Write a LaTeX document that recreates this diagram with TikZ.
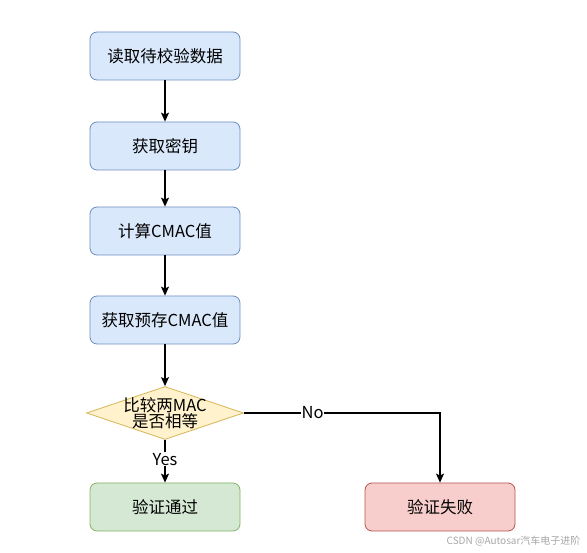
\documentclass[tikz,border=0pt]{standalone}
\usepackage{fontspec}
\setmainfont{Noto Sans CJK SC}
\usetikzlibrary{shapes.geometric,arrows.meta}
\definecolor{bfill}{HTML}{DAE8FC}\definecolor{bdraw}{HTML}{6C8EBF}
\definecolor{yfill}{HTML}{FFF2CC}\definecolor{ydraw}{HTML}{D6B656}
\definecolor{gfill}{HTML}{D5E8D4}\definecolor{gdraw}{HTML}{82B366}
\definecolor{rfill}{HTML}{F8CECC}\definecolor{rdraw}{HTML}{B85450}
\tikzset{
  box/.style={rectangle, rounded corners=7pt, minimum width=150pt, minimum height=48pt, inner sep=0pt, font=\fontsize{16.5}{19}\selectfont, line width=0.8pt},
  bluebox/.style={box, fill=bfill, draw=bdraw},
  greenbox/.style={box, fill=gfill, draw=gdraw},
  redbox/.style={box, fill=rfill, draw=rdraw},
  decision/.style={diamond, fill=yfill, draw=ydraw, line width=0.8pt, inner sep=0pt, minimum width=157pt, minimum height=53pt},
  dtext/.style={inner sep=0pt, font=\fontsize{16.5}{19}\selectfont, align=center},
  conn/.style={-{Stealth[length=9pt,width=8pt,inset=2pt]}, line width=1.1pt},
  lbl/.style={fill=white, inner sep=0.5pt, font=\fontsize{16.5}{19}\selectfont}
}
\begin{document}
\begin{tikzpicture}[x=1pt,y=-1pt]
\useasboundingbox (0,0) rectangle (587,553);
\node[bluebox] (n1) at (165,56) {读取待校验数据};
\node[bluebox] (n2) at (165,146) {获取密钥};
\node[bluebox] (n3) at (165,231) {计算CMAC值};
\node[bluebox] (n4) at (165,320) {获取预存CMAC值};
\node[decision] (d) at (165,413) {};
\node[dtext] (dt) at (165,413) {比较两MAC\\[-3pt]是否相等};
\node[greenbox] (ok) at (165,507) {验证通过};
\node[redbox] (fail) at (440,507) {验证失败};
\draw[conn] (n1) -- (n2);
\draw[conn] (n2) -- (n3);
\draw[conn] (n3) -- (n4);
\draw[conn] (n4) -- (d);
\draw[conn] (d) -- node[lbl, pos=0.45] {Yes} (ok);
\draw[conn] (d.east) -- node[lbl, pos=0.35] {No} (fail.north |- d.east) -- (fail.north);
\node[text=black!35, font=\fontsize{10}{12}\selectfont, anchor=east] (wm) at (584,541) {CSDN @Autosar汽车电子进阶};
\end{tikzpicture}
\end{document}
